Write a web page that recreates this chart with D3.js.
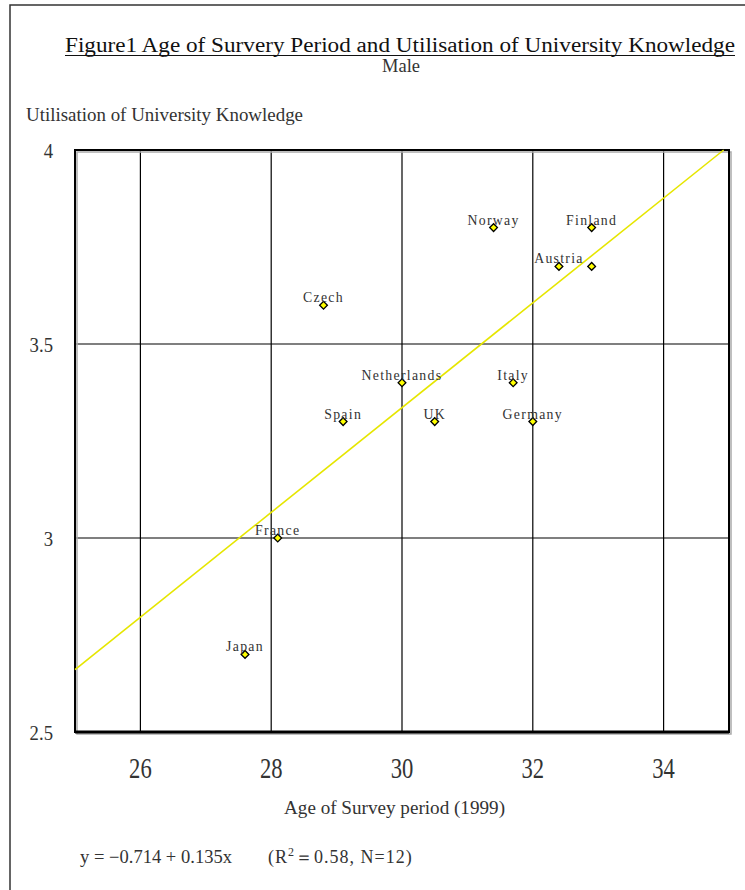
<!DOCTYPE html>
<html><head><meta charset="utf-8">
<script src="https://cdn.jsdelivr.net/npm/d3@7"></script>
<style>
body{margin:0;background:#fff;}
text{font-family:"Liberation Serif","DejaVu Serif",serif;fill:#333;}
</style></head>
<body><svg id="c" width="745" height="890"></svg>
<script>
const countries = ["Norway","Finland","Austria","","Czech","Netherlands","Italy","Spain","UK","Germany","France","Japan"];
const ages      = [31.4, 32.9, 32.4, 32.9, 28.8, 30.0, 31.7, 29.1, 30.5, 32.0, 28.1, 27.6];
const utilis    = [3.8, 3.8, 3.7, 3.7, 3.6, 3.4, 3.4, 3.3, 3.3, 3.3, 3.0, 2.7];
const xTicks = [26, 28, 30, 32, 34];
const yTicks = [2.5, 3, 3.5, 4];
const intercept = -0.714, slope = 0.135;
const titleText = "Figure1  Age of Survery Period and Utilisation of University Knowledge";
const subTitle = "Male";
const yTitle = "Utilisation of University Knowledge";
const xTitle = "Age of Survey period (1999)";

const svg = d3.select("#c");
const L=75, R=729, T=150, B=732;
const x = d3.scaleLinear().domain([25,35]).range([L,R]);
const y = d3.scaleLinear().domain([2.5,4]).range([B,T]);

// outer frame
svg.append("rect").attr("x",10).attr("y",5).attr("width",760).attr("height",900)
  .attr("fill","none").attr("stroke","#333").attr("stroke-width",1.5);

// title
svg.append("text").attr("x",65).attr("y",52).attr("textLength",670).attr("lengthAdjust","spacingAndGlyphs")
  .style("font-size","20px").style("fill","#111").text(titleText);
svg.append("line").attr("x1",65).attr("x2",735).attr("y1",55.5).attr("y2",55.5).attr("stroke","#111").attr("stroke-width",1.2);
svg.append("text").attr("x",401).attr("y",72).attr("textLength",38).attr("lengthAdjust","spacingAndGlyphs")
  .attr("text-anchor","middle").style("font-size","18px").text(subTitle);

// y title
svg.append("text").attr("x",26).attr("y",121).attr("textLength",277).attr("lengthAdjust","spacingAndGlyphs")
  .style("font-size","18px").text(yTitle);

// gridlines
const g = svg.append("g");
g.selectAll(".vg").data(xTicks).join("line")
  .attr("x1",d=>x(d)).attr("x2",d=>x(d)).attr("y1",T).attr("y2",B).attr("stroke","#000").attr("stroke-width",1.2);
g.selectAll(".hg").data(yTicks.filter(d=>d>2.5&&d<4)).join("line")
  .attr("x1",L).attr("x2",R).attr("y1",d=>y(d)).attr("y2",d=>y(d)).attr("stroke","#000").attr("stroke-width",1.2);

// plot frame shadow + frame
svg.append("rect").attr("x",L+2).attr("y",T+2).attr("width",R-L).attr("height",B-T)
  .attr("fill","none").attr("stroke","#aaa").attr("stroke-width",1.5);
svg.append("rect").attr("x",L).attr("y",T).attr("width",R-L).attr("height",B-T)
  .attr("fill","none").attr("stroke","#000").attr("stroke-width",2);
svg.append("line").attr("x1",L).attr("x2",R).attr("y1",B).attr("y2",B).attr("stroke","#000").attr("stroke-width",3);

// regression line
const xEnd = (4 - intercept)/slope;
svg.append("line").attr("x1",x(25)).attr("y1",y(intercept+slope*25))
  .attr("x2",x(xEnd)).attr("y2",y(4)).attr("stroke","#e6e600").attr("stroke-width",1.6);

// axes labels
svg.selectAll(".xt").data(xTicks).join("text")
  .attr("x",d=>x(d)).attr("y",778).attr("text-anchor","middle").style("font-size","29px")
  .attr("transform",d=>`translate(${x(d)},0) scale(0.78,1) translate(${-x(d)},0)`).text(d=>d);
svg.selectAll(".yt").data(yTicks).join("text")
  .attr("x",53).attr("y",d=>y(d)+8).attr("text-anchor","end").style("font-size","22px")
  .attr("transform",`translate(53,0) scale(0.85,1) translate(-53,0)`).text(d=>d);

svg.append("text").attr("x",284).attr("y",814).attr("textLength",221).attr("lengthAdjust","spacingAndGlyphs")
  .style("font-size","18px").text(xTitle);

// equation
svg.append("text").attr("x",80).attr("y",863).attr("textLength",152).attr("lengthAdjust","spacingAndGlyphs")
  .style("font-size","18px").text(`y = \u2212${Math.abs(intercept).toFixed(3)} + ${slope}x`);
const eq2 = svg.append("text").attr("x",268).attr("y",863).style("font-size","18px").style("letter-spacing","1px");
eq2.append("tspan").text("(R");
eq2.append("tspan").attr("dy",-7).style("font-size","12px").text("2");
eq2.append("tspan").attr("dy",7).text("\uFF1D0.58, N=12)");

// points
const pts = svg.append("g");
const sym = d3.symbol().type(d3.symbolSquare).size(30);
pts.selectAll("path").data(ages).join("path")
  .attr("d",sym).attr("transform",(d,i)=>`translate(${x(d)},${y(utilis[i])}) rotate(45)`)
  .attr("fill","#ffff00").attr("stroke","#000").attr("stroke-width",1.3);
pts.selectAll("text").data(ages).join("text")
  .attr("x",d=>x(d)).attr("y",(d,i)=>y(utilis[i])-3).attr("text-anchor","middle")
  .style("font-size","15px").style("letter-spacing","1.4px")
  .attr("transform",(d,i)=>`translate(${x(d)},0) scale(0.92,1) translate(${-x(d)},0)`)
  .text((d,i)=>countries[i]);
</script></body></html>
